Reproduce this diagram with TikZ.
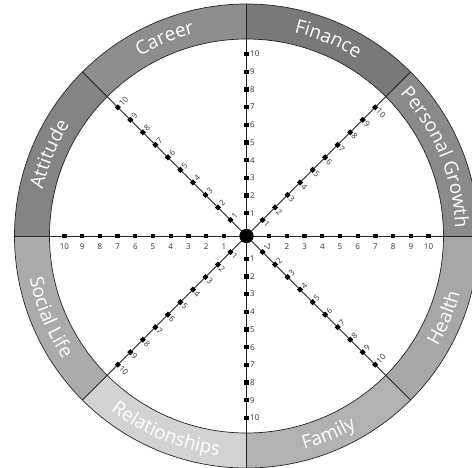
\documentclass[tikz,border=0pt]{standalone}
\usepackage{fontspec}
\setmainfont{Open Sans}
\usetikzlibrary{positioning,decorations.text}

\definecolor{growthgray}{RGB}{138,138,138}
\definecolor{financegray}{RGB}{121,121,121}
\definecolor{careergray}{RGB}{141,141,141}
\definecolor{attitudegray}{RGB}{132,132,132}
\definecolor{socialgray}{RGB}{171,171,171}
\definecolor{relationgray}{RGB}{211,211,211}
\definecolor{familygray}{RGB}{178,178,178}
\definecolor{healthgray}{RGB}{167,167,167}
\newcommand{\ringfont}{\fontsize{19}{19}\selectfont\color{white}}

\begin{document}
\begin{tikzpicture}[x=1pt, y=1pt,
		tick/.style={rectangle, fill=black, inner sep=0pt, minimum size=4.3pt},
		num/.style={font=\fontsize{8}{8}\selectfont, inner sep=1pt, text=black!80},
		spoke/.style={draw=black!85, line width=0.8pt},
		rim/.style={draw=black!85, line width=0.7pt}]
				\clip (-246.5,-231) rectangle (225.5,236);
				\foreach \a/\col in {0/growthgray, 45/financegray, 90/careergray,
				135/attitudegray, 180/socialgray, 225/relationgray, 270/familygray,
				315/healthgray}
				\fill [\col] (\a:197) arc[start angle=\a, end angle=\a+45, radius=197]
				-- (\a+45:232) arc[start angle=\a+45, end angle=\a, radius=232] -- cycle;
				\node (hub) at (0,0) [circle, fill=black, minimum size=14pt, inner sep=0pt] {};
				\foreach \a in {0,45,...,315}
				\coordinate (rim\a) at (\a:232);
				\foreach \a in {0,45,...,315}
				\draw [spoke] (hub.center) -- (rim\a);
				\draw [rim] (0,0) circle[radius=197];
				\draw [rim] (0,0) circle[radius=232];
				\path [decorate, decoration={text along path, text align=center,
				text={|\ringfont|Attitude}}] (187.5:209) arc[start angle=187.5, end angle=127.5, radius=209];
				\path [decorate, decoration={text along path, text align=center,
				text={|\ringfont|Career}}] (142.5:209) arc[start angle=142.5, end angle=82.5, radius=209];
				\path [decorate, decoration={text along path, text align=center,
				text={|\ringfont|Finance}}] (97.5:209) arc[start angle=97.5, end angle=37.5, radius=209];
				\path [decorate, decoration={text along path, text align=center,
				text={|\ringfont|Personal Growth}}] (62.5:209) arc[start angle=62.5, end angle=-17.5, radius=209];
				\path [decorate, decoration={text along path, text align=center,
				text={|\ringfont|Social Life}}] (172.5:221) arc[start angle=172.5, end angle=232.5, radius=221];
				\path [decorate, decoration={text along path, text align=center,
				text={|\ringfont|Relationships}}] (207.5:221) arc[start angle=207.5, end angle=287.5, radius=221];
				\path [decorate, decoration={text along path, text align=center,
				text={|\ringfont|Family}}] (262.5:221) arc[start angle=262.5, end angle=322.5, radius=221];
				\path [decorate, decoration={text along path, text align=center,
				text={|\ringfont|Health}}] (307.5:221) arc[start angle=307.5, end angle=367.5, radius=221];
				\foreach \a/\rot in {45/-45, 90/0, 135/45, 225/-45, 270/0, 315/45}
				\foreach \k in {1,...,10} {
					\node (t\a-\k) [tick, rotate=\a] at (\a:{5+17.7*\k}) {};
					\node (n\a-\k) [num, rotate=\rot, xshift=2.5pt, anchor=west] at (\a:{5+17.7*\k}) {\k};
				}
				\foreach \a in {0,180}
				\foreach \k in {1,...,10} {
					\node (t\a-\k) [tick] at (\a:{5+17.7*\k}) {};
					\node (n\a-\k) [num, below=4pt of t\a-\k] {\k};
				}
				\node (hubtop) at (0,0) [circle, fill=black, minimum size=14pt, inner sep=0pt] {};
			\end{tikzpicture}
\end{document}
